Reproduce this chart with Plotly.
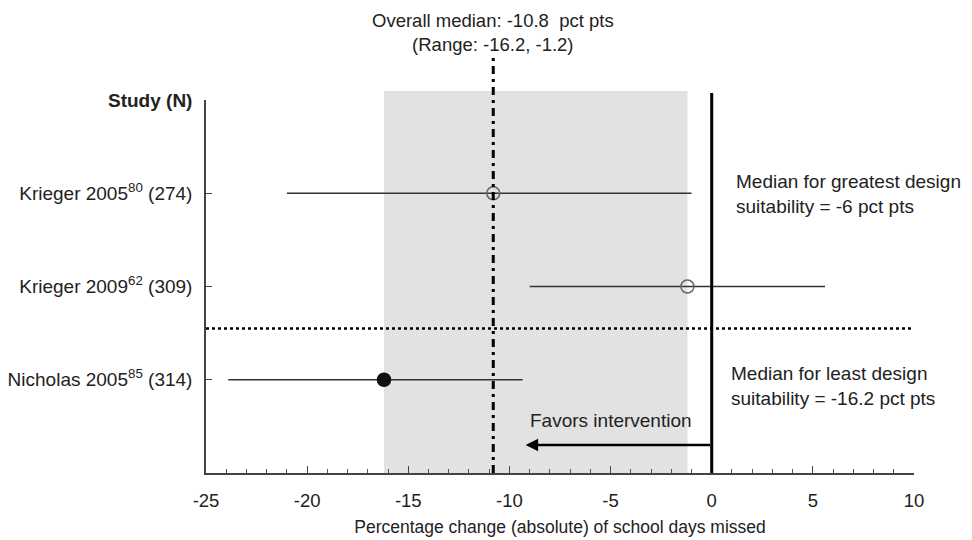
import plotly.graph_objects as go
import numpy as np

# ---- data ----
studies = ["Krieger 2005<sup>80</sup> (274)",
           "Krieger 2009<sup>62</sup> (309)",
           "Nicholas 2005<sup>85</sup> (314)"]
point = [-10.8, -1.2, -16.2]
lo = [-21.0, -9.0, -23.9]
hi = [-1.0, 5.6, -9.35]
least_design = [False, False, True]  # filled marker = least design suitability
x_ticks = [-25, -20, -15, -10, -5, 0, 5, 10]
x_ticklabels = ["-25", "-20", "-15", "-10", "-5", "0", "5", "10"]
header = "<b>Study (N)</b>"
greatest_text = ["Median for greatest design", "suitability = -6 pct pts"]
least_text = ["Median for least design", "suitability = -16.2 pct pts"]
favors_text = "Favors intervention"
x_title = "Percentage change (absolute) of school days missed"

n = len(studies)
rows = list(range(n, 0, -1))
med = float(np.median(point))
rmin, rmax = min(point), max(point)

FONT = "Liberation Sans, Arial, sans-serif"
TXT = "#222222"

# plot area geometry (px)
T, B = 100, 473
H = B - T
def pap(px):
    return (B - px) / H

fig = go.Figure()

sym = ["circle" if f else "circle-open" for f in least_design]
mcol = ["#111111" if f else "#666666" for f in least_design]
fig.add_trace(go.Scatter(
    x=point, y=rows, mode="markers",
    marker=dict(symbol=sym, size=13, color=mcol,
                line=dict(color=mcol, width=1.5)),
    error_x=dict(type="data", symmetric=False,
                 array=[h - p for h, p in zip(hi, point)],
                 arrayminus=[p - l for p, l in zip(point, lo)],
                 color="#333333", thickness=1.5, width=0),
    showlegend=False, hoverinfo="skip", cliponaxis=False))

shapes = [
    dict(type="rect", xref="x", yref="paper", x0=rmin, x1=rmax, y0=0, y1=pap(91),
         fillcolor="#e2e2e2", line=dict(width=0), layer="below"),
    dict(type="line", xref="x", yref="paper", x0=med, x1=med, y0=0, y1=pap(58),
         line=dict(color="black", width=3, dash="8px,5px,3px,5px"), layer="above"),
    dict(type="line", xref="x", yref="paper", x0=0, x1=0, y0=0, y1=pap(93),
         line=dict(color="black", width=3), layer="above"),
    dict(type="line", xref="x", yref="y", x0=x_ticks[0], x1=x_ticks[-1], y0=1.55, y1=1.55,
         line=dict(color="black", width=2.5, dash="dot"), layer="above"),
]

annotations = [
    dict(xref="x", yref="paper", x=med, y=pap(32),
         text="Overall median: %.1f  pct pts<br>(Range: %.1f, %.1f)" % (med, rmin, rmax),
         showarrow=False, xanchor="center", yanchor="middle", align="center",
         font=dict(size=18.5, color=TXT, family=FONT)),
    dict(xref="x", yref="y", x=-9.2, y=0.30, ax=0, ay=0.30, axref="x", ayref="y",
         text="", showarrow=True, arrowhead=2, arrowsize=1, arrowwidth=2.5,
         arrowcolor="black"),
    dict(xref="x", yref="paper", x=-9.1, y=pap(420), text=favors_text,
         showarrow=False, xanchor="left", yanchor="middle",
         font=dict(size=19, color=TXT, family=FONT)),
    dict(xref="x", yref="paper", x=1.1, y=pap(194), text="<br>".join(greatest_text),
         showarrow=False, xanchor="left", yanchor="middle", align="left",
         font=dict(size=19, color=TXT, family=FONT)),
    dict(xref="x", yref="paper", x=0.85, y=pap(386), text="<br>".join(least_text),
         showarrow=False, xanchor="left", yanchor="middle", align="left",
         font=dict(size=19, color=TXT, family=FONT)),
]

fig.update_layout(
    width=972, height=540,
    margin=dict(l=206, r=58, t=T, b=540 - B, autoexpand=False),
    paper_bgcolor="white", plot_bgcolor="white",
    font=dict(family=FONT, color=TXT),
    shapes=shapes, annotations=annotations,
    xaxis=dict(range=[x_ticks[0], x_ticks[-1]], tickvals=x_ticks, ticktext=x_ticklabels,
               ticks="inside", ticklen=7, tickwidth=1.3, tickcolor="#444",
               minor=dict(dtick=1, ticks="inside", ticklen=4, tickwidth=1.2, tickcolor="#555"),
               showline=True, linecolor="#444", linewidth=1.5, showgrid=False, zeroline=False,
               tickfont=dict(size=18.5, color=TXT, family=FONT), ticklabelstandoff=10,
               title=dict(text=x_title, font=dict(size=17.5, color=TXT, family=FONT), standoff=11)),
    yaxis=dict(range=[0, n + 1], tickvals=rows + [n + 1], ticktext=studies + [header],
               ticks="inside", ticklen=6, tickwidth=1.3, tickcolor="#444",
               showline=True, linecolor="#444", linewidth=1.5, showgrid=False, zeroline=False,
               tickfont=dict(size=19, color=TXT, family=FONT), ticklabelstandoff=8),
)

fig.write_html("out.html")
